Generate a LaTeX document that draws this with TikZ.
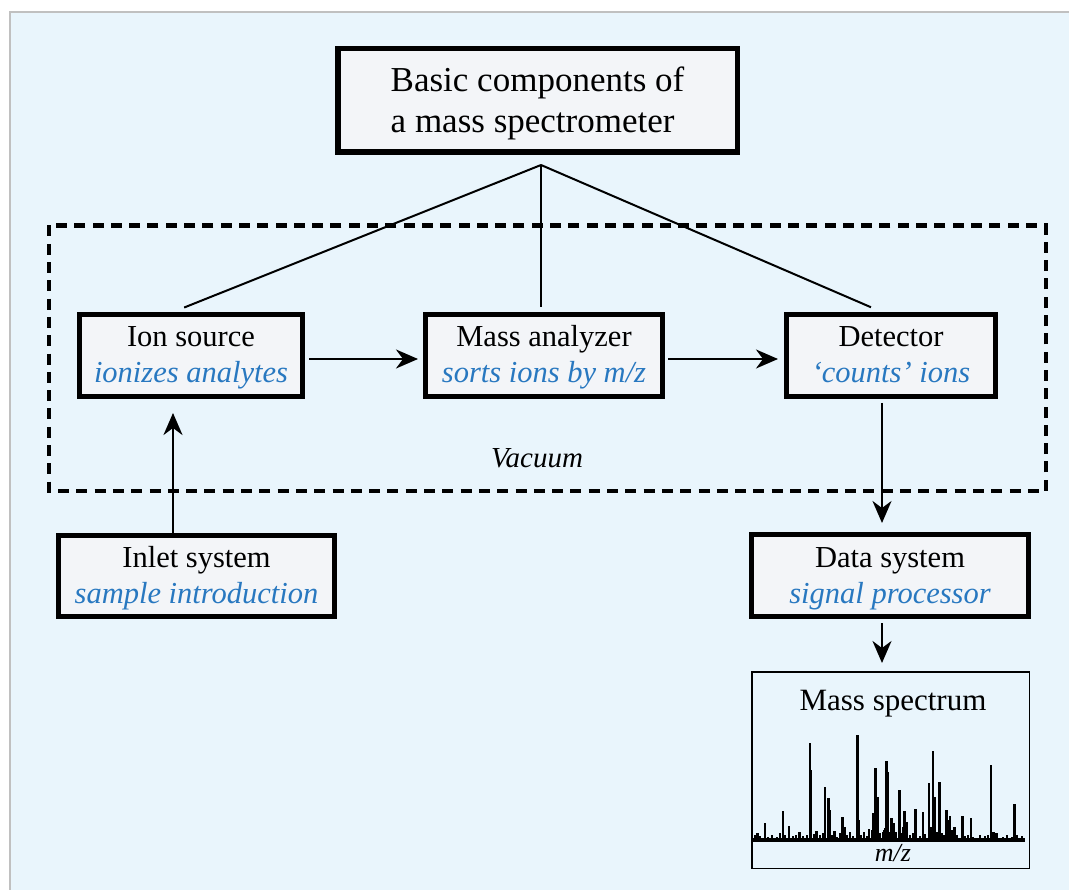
\documentclass[tikz,border=0pt]{standalone}
\usepackage{fontspec}
\setmainfont{Liberation Serif}
\usetikzlibrary{arrows.meta}
\definecolor{bgblue}{RGB}{233,245,252}
\definecolor{boxfill}{RGB}{243,245,248}
\definecolor{txtblue}{RGB}{40,120,192}
\definecolor{edgegray}{RGB}{192,192,192}
\newcommand\bodystrut{\rule[-8pt]{0pt}{35pt}}
\newcommand\titlestrut{\rule[-8pt]{0pt}{40pt}}
\newcommand\blueit[1]{{\color{txtblue}\itshape #1}}
\begin{document}
\begin{tikzpicture}[x=1pt,y=-1pt,
  box/.style={draw, line width=5pt, fill=boxfill, inner sep=0pt, align=center,
    font=\fontsize{30.5}{32}\selectfont},
  conn/.style={line width=2pt},
  arr/.style={line width=2pt, -{Stealth[length=22pt,width=19pt,inset=7pt]}},
  vac/.style={line width=4.5pt, dash pattern=on 11pt off 7.3pt},
  peak/.style={line width=2.4pt}]

\useasboundingbox (0,0) rectangle (1069,890);
\fill[white] (0,0) rectangle (1069,890);
\fill[bgblue] (10,12) rectangle (1069,890);
\draw[edgegray, line width=2pt] (10,890) -- (10,12) -- (1069,12);

% vacuum enclosure
\draw[vac] (49,225.5) rectangle (1046,491);
\node[anchor=base, font=\fontsize{29}{29}\selectfont\itshape] (vaclabel) at (537,468) {Vacuum};

% boxes
\node[box, line width=5.5pt, minimum width=399.5pt, minimum height=103.5pt, align=left,
  font=\fontsize{35}{35}\selectfont] (title) at (537.5,100.5)
  {\titlestrut Basic components of\\\titlestrut a mass spectrometer};
\node[box, minimum width=223pt, minimum height=82pt] (ion) at (191,355.5)
  {\bodystrut Ion source\\\bodystrut\blueit{ionizes analytes}};
\node[box, minimum width=237pt, minimum height=82pt] (mass) at (544,355.5)
  {\bodystrut Mass analyzer\\\bodystrut\blueit{sorts ions by m/z}};
\node[box, minimum width=209pt, minimum height=82pt] (det) at (891,355.5)
  {\bodystrut Detector\\\bodystrut\blueit{‘counts’ ions}};
\node[box, minimum width=276pt, minimum height=81pt] (inlet) at (196.5,576)
  {\bodystrut Inlet system\\\bodystrut\blueit{sample introduction}};
\node[box, minimum width=277pt, minimum height=82pt] (data) at (890,575.5)
  {\bodystrut Data system\\\bodystrut\blueit{signal processor}};
\node[draw, line width=1.5pt, minimum width=277.5pt, minimum height=196.5pt, inner sep=0pt]
  (spec) at (890.5,770) {};
\node[anchor=base, font=\fontsize{31}{31}\selectfont] (spectitle) at (893,710) {Mass spectrum};
\node[anchor=base, font=\fontsize{26}{26}\selectfont\itshape] (mz) at (893,861) {m/z};

% connectors
\coordinate (apex) at (541,165);
\coordinate (xl) at (173,0);
\coordinate (xr) at (882,0);
\draw[conn, shorten >=12pt] (apex) -- (ion.north -| xl);
\draw[conn, shorten >=5pt] (apex) -- (mass.north -| apex);
\draw[conn, shorten >=12pt] (apex) -- (det.north -| xr);

\draw[arr, shorten <=4pt, shorten >=5pt] ([yshift=-3.5pt]ion.east) -- ([yshift=-3.5pt]mass.west);
\draw[arr, shorten <=3pt, shorten >=6pt] ([yshift=-3.5pt]mass.east) -- ([yshift=-3.5pt]det.west);
\draw[arr, shorten >=14pt] (inlet.north -| xl) -- (ion.south -| xl);
\draw[arr, shorten <=4pt, shorten >=9pt] (det.south -| xr) -- (data.north -| xr);
\draw[arr, shorten <=4pt, shorten >=8pt] (data.south -| xr) -- (spec.north -| xr);

% spectrum
\begin{scope}[shift={(740pt,-640pt)}, x=0.33333pt, y=-0.33333pt]
\foreach \px/\py in {52/578,75/548,129/513,147/558,178/575,210/308,213/390,230/572,
  255/440,265/473,270/510,283/572,308/530,315/560,330/575,353/285,357/540,372/575,
  387/568,400/518,407/385,413/470,435/565,440/362,443/395,455/535,462/550,478/450,
  494/513,500/545,527/507,549/517,567/430,579/334,583/470,598/426,620/510,630/528,
  643/560,668/528,693/533,753/376,760/575,770/580,823/492}
  \draw[peak] (\px,600) -- (\px,\py);
\foreach \px/\py in {45/585,60/588,85/590,95/586,110/590,120/580,135/585,160/588,
  168/584,190/588,200/585,222/582,240/586,248/580,275/585,292/590,300/580,322/586,
  340/588,362/586,380/588,395/570,403/560,420/580,428/575,432/570,450/575,468/575,
  485/580,490/560,510/585,520/580,540/588,556/582,572/560,590/575,605/580,612/585,
  625/540,636/570,650/585,675/588,685/585,700/590,720/586,735/588,745/586,765/588,
  790/590,800/586,815/590,830/584,845/588}
  \draw[line width=2pt] (\px,600) -- (\px,\py);
\draw[line width=3.5pt] (38,600) -- (855,600);
\end{scope}
\end{tikzpicture}
\end{document}
